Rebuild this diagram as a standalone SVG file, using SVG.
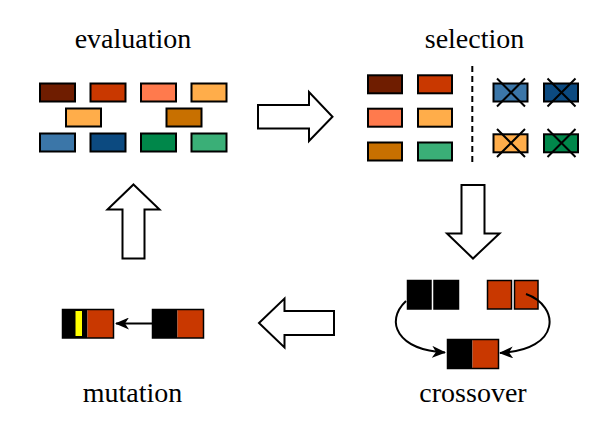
<svg xmlns="http://www.w3.org/2000/svg" width="608" height="428" viewBox="0 0 608 428">
<defs>
<style>
.lbl{font-family:"Liberation Serif","Times New Roman",serif;font-size:28px;fill:#000;text-anchor:middle}
.b{stroke:#000;stroke-width:2}
.big{fill:#fff;stroke:#000;stroke-width:2;stroke-linejoin:miter}
.c1{fill:#6F1D00}.c2{fill:#C93800}.c3{fill:#FF7A4D}.c4{fill:#FFAD4A}.c5{fill:#C87000}
.c6{fill:#3B76A8}.c7{fill:#0C4A80}.c8{fill:#00874A}.c9{fill:#3AAF77}
.x{stroke:#000;stroke-width:2}
.conn{fill:none;stroke:#000;stroke-width:2}
</style>
<marker id="ah" markerWidth="14" markerHeight="12" viewBox="0 0 14 12" refX="13" refY="6" orient="auto" markerUnits="userSpaceOnUse">
<path d="M0,0 L14,6 L0,12 L4,6 Z" fill="#000"/>
</marker>
</defs>
<rect width="608" height="428" fill="#fff"/>

<g id="evaluation">
<text class="lbl" x="133" y="48">evaluation</text>
<rect class="b c1" x="40" y="83.5" width="35" height="18"/>
<rect class="b c2" x="90.5" y="83.5" width="35" height="18"/>
<rect class="b c3" x="141" y="83.5" width="35" height="18"/>
<rect class="b c4" x="191.5" y="83.5" width="35" height="18"/>
<rect class="b c4" x="66" y="108.5" width="35" height="18"/>
<rect class="b c5" x="166.5" y="108.5" width="35" height="18"/>
<rect class="b c6" x="40" y="133.5" width="35" height="18"/>
<rect class="b c7" x="90.5" y="133.5" width="35" height="18"/>
<rect class="b c8" x="141" y="133.5" width="35" height="18"/>
<rect class="b c9" x="191.5" y="133.5" width="35" height="18"/>
</g>

<g id="selection">
<text class="lbl" x="474.5" y="48">selection</text>
<rect class="b c1" x="368" y="75.3" width="34" height="18"/>
<rect class="b c2" x="418" y="75.3" width="34" height="18"/>
<rect class="b c3" x="368" y="108.7" width="34" height="18"/>
<rect class="b c4" x="418" y="108.7" width="34" height="18"/>
<rect class="b c5" x="368" y="142.5" width="34" height="18"/>
<rect class="b c9" x="418" y="142.5" width="34" height="18"/>
<line x1="472.3" y1="66" x2="472.3" y2="166" stroke="#000" stroke-width="2" stroke-dasharray="6,4"/>
<rect class="b c6" x="493.5" y="83.5" width="34" height="18"/>
<rect class="b c7" x="544" y="83.5" width="34" height="18"/>
<rect class="b c4" x="493.5" y="134.3" width="34" height="18"/>
<rect class="b c8" x="544" y="134.3" width="34" height="18"/>
<path class="x" d="M497,78.5 L525,106.5 M525,78.5 L497,106.5 M547.5,78.5 L575.5,106.5 M575.5,78.5 L547.5,106.5 M497,129 L525,157 M525,129 L497,157 M547.5,129 L575.5,157 M575.5,129 L547.5,157"/>
</g>

<g id="crossover">
<text class="lbl" x="473" y="401.5">crossover</text>
<rect x="407.5" y="280.5" width="23.5" height="28.5" fill="#000" stroke="#000" stroke-width="1.5"/>
<rect x="434" y="280.5" width="24.5" height="28.5" fill="#000" stroke="#000" stroke-width="1.5"/>
<rect x="487.5" y="280.5" width="24" height="28.5" fill="#C93800" stroke="#000" stroke-width="1.5"/>
<rect x="514.5" y="280.5" width="23.5" height="28.5" fill="#C93800" stroke="#000" stroke-width="1.5"/>
<rect x="447.5" y="339.5" width="25" height="29" fill="#000"/>
<rect x="472.5" y="339.5" width="26" height="29" fill="#C93800"/>
<rect x="447.5" y="339.5" width="51" height="29" fill="none" stroke="#000" stroke-width="1.5"/>
</g>

<g id="mutation">
<text class="lbl" x="132.5" y="401.5">mutation</text>
<rect x="62.5" y="309.5" width="25" height="28.5" fill="#000"/>
<rect x="75.5" y="311" width="6.5" height="25" fill="#FFFF00"/>
<rect x="87.5" y="309.5" width="26" height="28.5" fill="#C93800"/>
<rect x="62.5" y="309.5" width="51" height="28.5" fill="none" stroke="#000" stroke-width="1.5"/>
<rect x="152.5" y="309.5" width="25" height="28.5" fill="#000"/>
<rect x="177.5" y="309.5" width="26" height="28.5" fill="#C93800"/>
<rect x="152.5" y="309.5" width="51" height="28.5" fill="none" stroke="#000" stroke-width="1.5"/>
</g>

<g id="connectors">
<polygon class="big" points="258,105 309,105 309,92 332.5,116.7 309,141 309,128.5 258,128.5"/>
<polygon class="big" points="461.5,185 484.5,185 484.5,233.5 499.5,233.5 473,258.5 447,233.5 461.5,233.5"/>
<polygon class="big" points="334,311 284.5,311 284.5,298.5 259,323 284.5,347.5 284.5,335 334,335"/>
<polygon class="big" points="133.5,184.5 159.5,209.5 144.5,209.5 144.5,258.5 122.5,258.5 122.5,209.5 107.5,209.5"/>
<path class="conn" d="M406,301 C384,322 398,350 445,352.5" marker-end="url(#ah)"/>
<path class="conn" d="M526,294 C560,306 562,350 500,353" marker-end="url(#ah)"/>
<line class="conn" x1="152" y1="323.5" x2="116" y2="323.5" marker-end="url(#ah)"/>
</g>
</svg>
